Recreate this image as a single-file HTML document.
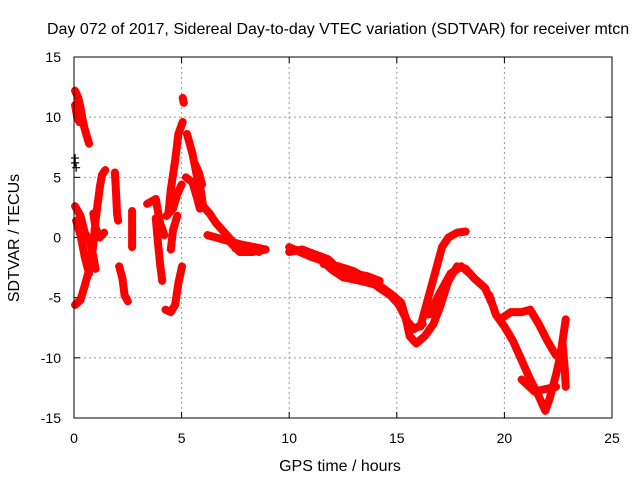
<!DOCTYPE html>
<html><head><meta charset="utf-8"><style>
html,body{margin:0;padding:0;background:#fff;width:640px;height:480px;overflow:hidden}
svg text{font-family:"Liberation Sans",sans-serif;font-size:14px;fill:#000}
svg text.big{font-size:16px}
</style></head><body>
<svg id="chart" width="640" height="480">
<text class="big" x="47" y="34">Day 072 of 2017, Sidereal Day-to-day VTEC variation (SDTVAR) for receiver mtcn</text>
<text class="big" x="340" y="471" text-anchor="middle">GPS time / hours</text>
<text class="big" transform="translate(19,238) rotate(-90)" text-anchor="middle">SDTVAR / TECUs</text>
<g id="grid"></g><g id="axes"></g><g id="data"></g>
<rect x="74" y="57" width="538" height="361" fill="none" stroke="#000"/>
</svg>
<script>
const xTicks=[0,5,10,15,20,25];
const yTicks=[-15,-10,-5,0,5,10,15];
const tracks=[
 [[0.05,12.2],[0.2,11.6],[0.3,10.8],[0.4,9.8],[0.5,9.0],[0.6,8.4],[0.7,7.8]],
 [[0.05,11.0],[0.15,10.0],[0.25,9.6],[0.35,10.2]],
 [[0.05,-5.6],[0.3,-5.2],[0.5,-4.0],[0.75,-2.4],[0.9,-0.6],[1.0,1.4],[1.2,4.2],[1.3,5.2],[1.45,5.6]],
 [[0.05,2.6],[0.3,1.8],[0.5,0.4],[0.75,-0.4],[0.9,-1.6],[1.0,-2.6]],
 [[0.1,1.4],[0.3,0.2],[0.5,-1.6],[0.7,-3.0]],
 [[0.9,2.0],[1.0,0.8],[1.2,0.0],[1.4,0.4]],
 [[1.9,5.4],[1.95,3.8],[2.0,2.0],[2.05,1.4]],
 [[2.1,-2.4],[2.25,-3.4],[2.35,-4.8],[2.5,-5.3]],
 [[2.7,2.2],[2.7,0.6],[2.7,-0.8]],
 [[3.4,2.8],[3.8,3.2],[4.0,1.2],[4.2,0.2]],
 [[3.8,1.6],[3.9,-0.4],[4.0,-2.2],[4.1,-3.6]],
 [[4.25,-6.0],[4.5,-6.2],[4.7,-5.6],[4.85,-3.8],[5.02,-2.4]],
 [[4.4,2.2],[4.5,4.0],[4.7,6.4],[4.85,8.6],[5.05,9.6]],
 [[4.3,1.8],[4.6,2.4],[4.8,3.6],[5.0,4.4]],
 [[4.5,-1.0],[4.6,0.6],[4.8,1.8]],
 [[5.05,11.6],[5.1,11.2]],
 [[5.25,8.6],[5.5,7.0],[5.7,5.2],[5.85,4.4],[6.0,2.6]],
 [[5.2,5.0],[5.5,4.6],[5.7,3.4],[5.85,2.4]],
 [[5.6,6.2],[5.8,5.4],[5.95,4.4]],
 [[6.0,2.6],[6.3,2.0],[6.6,1.2],[7.0,0.4],[7.4,-0.4],[7.8,-0.6],[8.4,-0.8],[8.9,-1.0]],
 [[6.2,0.2],[6.6,0.0],[7.2,-0.3],[7.7,-1.2],[8.3,-1.2],[8.9,-1.0]],
 [[7.5,-0.9],[8.0,-0.7],[8.6,-1.2]],
 [[10.0,-0.8],[10.5,-1.2],[11.0,-1.6],[11.5,-1.9],[12.0,-2.7],[12.5,-3.3],[13.3,-3.6],[14.2,-4.0],[14.8,-4.8],[15.2,-5.4],[15.4,-6.6],[15.6,-8.2],[15.9,-8.8],[16.3,-8.2],[16.7,-7.2],[17.0,-5.8],[17.4,-3.6],[17.8,-2.4],[18.2,-2.6],[18.6,-3.4],[19.1,-4.2],[19.4,-5.4]],
 [[10.0,-1.2],[10.6,-1.0],[11.2,-1.4],[11.8,-1.8],[12.4,-2.8],[13.0,-3.0],[13.6,-3.2],[14.2,-3.6]],
 [[11.6,-2.2],[12.3,-2.4],[13.0,-2.8],[13.6,-3.4],[14.2,-4.2],[14.7,-4.8],[15.1,-5.6],[15.5,-7.0],[15.8,-7.6],[16.2,-7.2]],
 [[16.1,-7.4],[16.4,-5.4],[16.8,-2.8],[17.1,-0.8],[17.4,0.0],[17.8,0.4],[18.2,0.5]],
 [[16.5,-6.4],[17.0,-4.6],[17.5,-3.0],[18.0,-2.4],[18.4,-3.0]],
 [[19.3,-4.8],[19.6,-6.4],[20.0,-7.4],[20.4,-8.6],[20.8,-10.2],[21.2,-11.8],[21.6,-13.2],[21.9,-14.4],[22.1,-13.4],[22.4,-11.4],[22.6,-9.8],[22.85,-6.8]],
 [[19.8,-6.8],[20.3,-6.2],[20.8,-6.2],[21.2,-6.0],[21.6,-7.2],[22.0,-8.6],[22.4,-9.8],[22.7,-9.4]],
 [[20.8,-11.8],[21.4,-12.8],[21.9,-12.6],[22.4,-12.4]],
 [[22.7,-8.8],[22.8,-10.8],[22.85,-12.4]]
];
const blackPts=[[0.05,6.6],[0.05,6.2],[0.1,5.8]];
const NS="http://www.w3.org/2000/svg";
const X=t=>74+t*538/25, Y=v=>237.5-v*361/30;
const grid=document.getElementById('grid'),axes=document.getElementById('axes'),dg=document.getElementById('data');
function mk(tag,attrs,parent){const e=document.createElementNS(NS,tag);for(const k in attrs)e.setAttribute(k,attrs[k]);parent.appendChild(e);return e;}
xTicks.forEach(t=>{
 if(t>0&&t<25){const g=mk('line',{x1:X(t),x2:X(t),y1:57,y2:418,stroke:'#999','stroke-dasharray':'2,3'},grid);
 
 }
 mk('line',{x1:X(t),x2:X(t),y1:418,y2:412,stroke:'#000'},axes);
 mk('line',{x1:X(t),x2:X(t),y1:57,y2:63,stroke:'#000'},axes);
 const l=mk('text',{x:X(t),y:443,'text-anchor':'middle'},axes);l.textContent=t;
 
 
});
yTicks.forEach(v=>{
 if(v>-15&&v<15){const g=mk('line',{x1:74,x2:612,y1:Y(v),y2:Y(v),stroke:'#999','stroke-dasharray':'2,3'},grid);
 
 }
 mk('line',{x1:74,x2:80,y1:Y(v),y2:Y(v),stroke:'#000'},axes);
 mk('line',{x1:612,x2:606,y1:Y(v),y2:Y(v),stroke:'#000'},axes);
 const l=mk('text',{x:61,y:Y(v)+5,'text-anchor':'end'},axes);l.textContent=v;
 
 
});
function plus(t,v,c,name){const x=X(t),y=Y(v);
 const p=mk('path',{d:`M${x-4},${y}H${x+4}M${x},${y-4}V${y+4}`,stroke:c,'stroke-width':1.2},dg);
 
 }
tracks.forEach(tr=>{
 const pl=mk('polyline',{points:tr.map(p=>X(p[0])+','+Y(p[1])).join(' '),fill:'none',stroke:'#f00','stroke-width':8,'stroke-linejoin':'round','stroke-linecap':'round'},dg);
 
 
 tr.forEach(p=>plus(p[0],p[1],'#f00','sdtvar-point'));
});
blackPts.forEach(p=>plus(p[0],p[1],'#000','sdtvar-point-black'));
</script>
</body></html>
